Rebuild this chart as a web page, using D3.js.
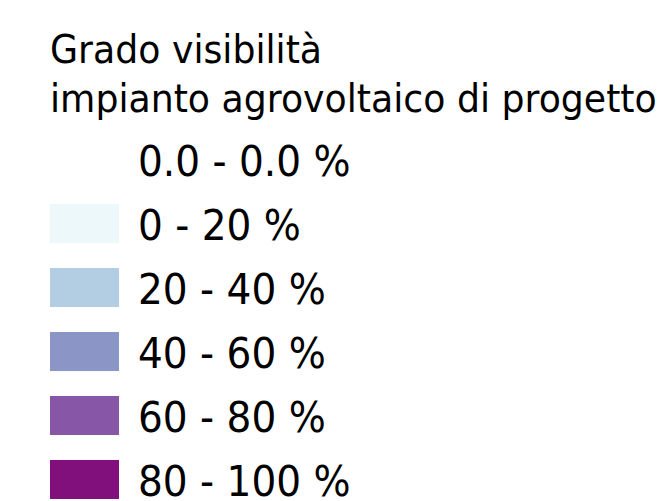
<!DOCTYPE html>
<html>
<head>
<meta charset="utf-8">
<script src="https://cdn.jsdelivr.net/npm/d3@7"></script>
<style>
  html, body { margin: 0; padding: 0; background: #fff; }
  text { font-family: "DejaVu Sans", sans-serif; fill: #000; }
</style>
</head>
<body>
<div id="chart"></div>
<script>
const titleLines = ['Grado visibilità', 'impianto agrovoltaico di progetto'];
const classLabels = ['0.0 - 0.0 %', '0 - 20 %', '20 - 40 %', '40 - 60 %', '60 - 80 %', '80 - 100 %'];
const classColors = [null, '#edf8fb', '#b3cde3', '#8c96c6', '#8856a7', '#810f7c'];

const width = 665, height = 501;
const squeeze = 0.93; // Tahoma-ish width from DejaVu

const svg = d3.select('#chart').append('svg')
  .attr('width', width).attr('height', height);

// one band per class: 39px swatch, 64px pitch
const y = d3.scaleBand()
  .domain(classLabels)
  .range([140, 499])
  .paddingInner(0.39)
  .paddingOuter(0);

svg.append('g')
  .selectAll('text')
  .data(titleLines)
  .join('text')
  .attr('transform', (d, i) => `translate(50,${63 + i * 49}) scale(${squeeze},1)`)
  .attr('font-size', 39)
  .text(d => d);

const rows = svg.append('g')
  .selectAll('g')
  .data(classLabels)
  .join('g')
  .attr('transform', d => `translate(0,${y(d)})`);

rows.filter((d, i) => classColors[i])
  .append('rect')
  .attr('x', 50)
  .attr('width', 69)
  .attr('height', y.bandwidth())
  .attr('fill', d => classColors[classLabels.indexOf(d)]);

rows.append('text')
  .attr('transform', `translate(138,${y.bandwidth() - 3}) scale(${squeeze},1)`)
  .attr('font-size', 42)
  .text(d => d);
</script>
</body>
</html>
